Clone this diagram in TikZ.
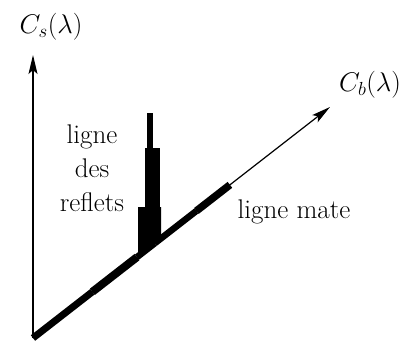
\documentclass[tikz,border=0pt]{standalone}
\usepackage{fix-cm}
\usepackage{tikz}
\usetikzlibrary{arrows.meta,calc,positioning}

\begin{document}
\begin{tikzpicture}[
  x=1pt, y=-1pt,
  every node/.style={font=\fontsize{27}{34}\selectfont, inner sep=0pt},
  axis/.style={line width=1.2pt, -{Stealth[length=19pt, width=9pt, inset=4pt]}},
  spike/.style={fill=black},
]
\useasboundingbox (0,0) rectangle (412,345);

%% -- Axes -----------------------------------------------------------------
\coordinate (O)  at (33,338);
\coordinate (Ys) at (33,55);
\coordinate (Xb) at (330,107);
\draw[axis] (O) -- (Ys);
\draw[axis] (O) -- (Xb);

%% -- Matte line (thick pieces along the diagonal) -------------------------
\foreach \a/\b/\w in {0/0.2/7pt, 0.2/0.35/8pt, 0.35/0.41/6.5pt,
                      0.41/0.55/6.5pt, 0.55/0.663/7.5pt} {
  \draw[line width=\w] ($(O)!\a!(Xb)$) -- ($(O)!\b!(Xb)$);
}

%% -- Specular line (spike) ------------------------------------------------
\fill[spike] (138,207) -- (161,207) -- (161,240) -- (138,254) -- cycle;
\fill[spike] (145,148) rectangle (160,208);
\fill[spike] (147,113) rectangle (153,149);

%% -- Labels ---------------------------------------------------------------
\node (cs)     at (51,27)  {$C_s(\lambda)$};
\node (cb)     at (370,85) {$C_b(\lambda)$};
\node[align=center] (reflets) at (92,168) {ligne\\des\\reflets};
\node[anchor=base] (mate) at (294,218) {ligne mate};

\end{tikzpicture}
\end{document}
